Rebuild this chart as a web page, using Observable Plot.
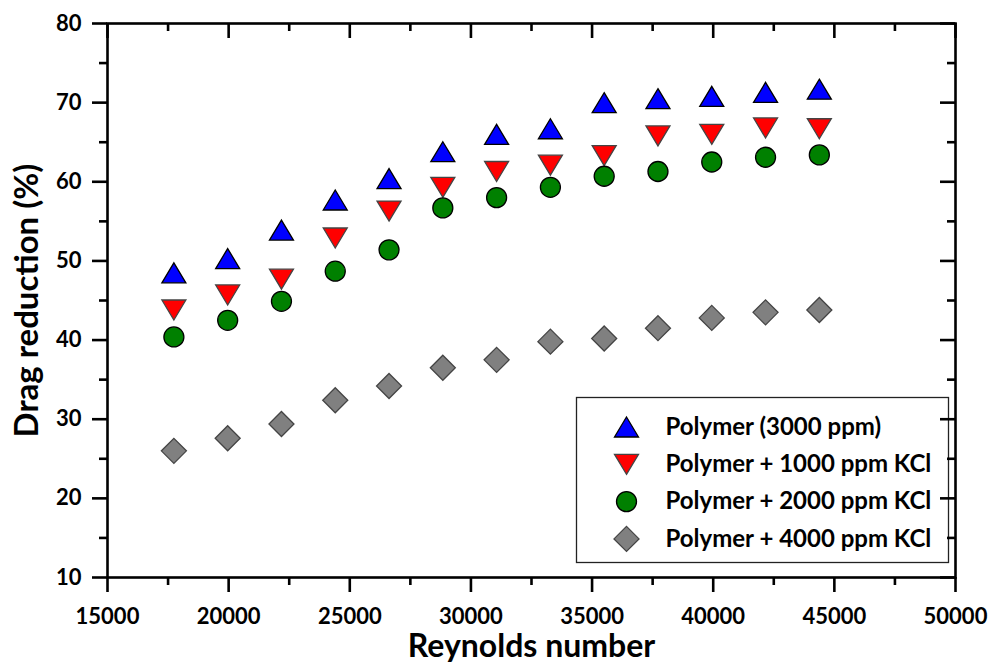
<!DOCTYPE html>
<html>
<head>
<meta charset="utf-8">
<script src="https://cdn.jsdelivr.net/npm/d3@7"></script>
<script src="https://cdn.jsdelivr.net/npm/@observablehq/plot@0.6"></script>
<style>
  body { margin: 0; background: #fff; overflow: hidden; }
</style>
</head>
<body>
<script>
// ---- data ----
const reynolds = [17740, 19960, 22180, 24400, 26620, 28840, 31060, 33280, 35500, 37720, 39940, 42160, 44380];
const polymer3000 = [48.5, 50.3, 53.9, 57.7, 60.4, 63.8, 66.0, 66.7, 70.0, 70.5, 70.8, 71.3, 71.7];
const kcl1000 = [43.8, 45.7, 47.7, 52.9, 56.3, 59.3, 61.3, 62.1, 63.3, 65.8, 66.0, 66.8, 66.7];
const kcl2000 = [40.4, 42.5, 44.9, 48.7, 51.4, 56.7, 58.0, 59.3, 60.7, 61.3, 62.5, 63.1, 63.4];
const kcl4000 = [26.0, 27.6, 29.4, 32.4, 34.2, 36.5, 37.5, 39.8, 40.2, 41.5, 42.8, 43.5, 43.8];
const seriesNames = ["Polymer (3000 ppm)", "Polymer + 1000 ppm KCl", "Polymer + 2000 ppm KCl", "Polymer + 4000 ppm KCl"];
const xMajor = [15000, 20000, 25000, 30000, 35000, 40000, 45000, 50000];
const xMinor = [17500, 22500, 27500, 32500, 37500, 42500, 47500];
const yMajor = [10, 20, 30, 40, 50, 60, 70, 80];
const yMinor = [15, 25, 35, 45, 55, 65, 75];

// ---- marker symbols ----
const rOf = size => Math.sqrt(size / Math.PI);
const triUp = { draw(c, size) { const r = rOf(size), w = r * 1.2; c.moveTo(0, -r); c.lineTo(w, r); c.lineTo(-w, r); c.closePath(); } };
const triDown = { draw(c, size) { const r = rOf(size), w = r * 1.2; c.moveTo(0, r); c.lineTo(w, -r); c.lineTo(-w, -r); c.closePath(); } };
const circ = { draw(c, size) { const r = rOf(size); c.moveTo(r, 0); c.arc(0, 0, r, 0, 2 * Math.PI); c.closePath(); } };
const diamond = { draw(c, size) { const d = rOf(size) * 1.25; c.moveTo(0, -d); c.lineTo(d, 0); c.lineTo(0, d); c.lineTo(-d, 0); c.closePath(); } };

const series = [
  { name: seriesNames[0], values: polymer3000, fill: "#0000ff", stroke: "#000", symbol: triUp },
  { name: seriesNames[1], values: kcl1000, fill: "#ff0000", stroke: "#444", symbol: triDown },
  { name: seriesNames[2], values: kcl2000, fill: "#008000", stroke: "#000", symbol: circ },
  { name: seriesNames[3], values: kcl4000, fill: "#808080", stroke: "#444", symbol: diamond }
];

// ---- layout ----
const W = 990, H = 663, ML = 107, MR = 35, MT = 23, MB = 86;
const FW = W - ML - MR, FH = H - MT - MB;
const SW = 2.6, MAJ = 15, MIN = 8;
const LG = { left: 469, top: 374, right: 7, bottom: 15, symDx: 519, textDx: 558, row0: 403.5, rowStep: 37.3 };

const dotMarks = series.map(s => Plot.dot(reynolds.map((x, i) => ({ x, y: s.values[i] })), {
  x: "x", y: "y", symbol: s.symbol, r: 10, fill: s.fill, stroke: s.stroke, strokeWidth: 1.3
}));

const legendMarks = [
  Plot.frame({ insetLeft: LG.left, insetTop: LG.top, insetRight: LG.right, insetBottom: LG.bottom, fill: "#fff", stroke: "#222", strokeWidth: 1.3 }),
  ...series.map((s, i) => Plot.dot([s.name], {
    frameAnchor: "top-left", dx: LG.symDx, dy: LG.row0 + i * LG.rowStep,
    symbol: s.symbol, r: 10, fill: s.fill, stroke: s.stroke, strokeWidth: 1.3
  })),
  ...series.map((s, i) => Plot.text([s.name], {
    text: d => d, frameAnchor: "top-left", textAnchor: "start", lineAnchor: "middle",
    dx: LG.textDx, dy: LG.row0 + i * LG.rowStep, fontSize: 24, fontWeight: "bold", fill: "#000"
  }))
];

const tk = { stroke: "#000", strokeWidth: SW };
const tickMarks = [
  // bottom (outward)
  Plot.tickX(xMajor, { x: d => d, insetTop: FH, insetBottom: -MAJ, ...tk }),
  Plot.tickX(xMinor, { x: d => d, insetTop: FH, insetBottom: -MIN, ...tk }),
  // top (inward)
  Plot.tickX(xMajor, { x: d => d, insetTop: 0, insetBottom: FH - MAJ, ...tk }),
  Plot.tickX(xMinor, { x: d => d, insetTop: 0, insetBottom: FH - MIN, ...tk }),
  // left (outward)
  Plot.tickY(yMajor, { y: d => d, insetLeft: -MAJ, insetRight: FW, ...tk }),
  Plot.tickY(yMinor, { y: d => d, insetLeft: -MIN, insetRight: FW, ...tk }),
  // right (inward)
  Plot.tickY(yMajor, { y: d => d, insetLeft: FW - MAJ, insetRight: 0, ...tk }),
  Plot.tickY(yMinor, { y: d => d, insetLeft: FW - MIN, insetRight: 0, ...tk })
];

const chart = Plot.plot({
  width: W, height: H,
  marginLeft: ML, marginRight: MR, marginTop: MT, marginBottom: MB,
  style: { fontFamily: "Lato, 'Open Sans', sans-serif", fontWeight: "bold", color: "#000" },
  x: { domain: [15000, 50000] },
  y: { domain: [10, 80] },
  marks: [
    ...dotMarks,
    ...legendMarks,
    Plot.axisX({ ticks: xMajor, tickSize: 0, tickPadding: MAJ + 16, tickFormat: d => String(d), fontSize: 22, fontWeight: "bold", label: null }),
    Plot.axisY({ ticks: yMajor, tickSize: 0, tickPadding: MAJ + 11, tickFormat: d => String(d), fontSize: 22, fontWeight: "bold", label: null }),
    Plot.frame({ stroke: "#000", strokeWidth: SW }),
    Plot.text(["Reynolds number"], { text: d => d, frameAnchor: "bottom", lineAnchor: "middle", textAnchor: "middle", dy: 69, fontSize: 32, fontWeight: "bold", fill: "#000" }),
    Plot.text(["Drag reduction (%)"], { text: d => d, frameAnchor: "left", lineAnchor: "middle", textAnchor: "middle", dx: -80, rotate: -90, fontSize: 33, fontWeight: "bold", fill: "#000" }),
    ...tickMarks
  ]
});

document.body.appendChild(chart);
</script>
</body>
</html>
